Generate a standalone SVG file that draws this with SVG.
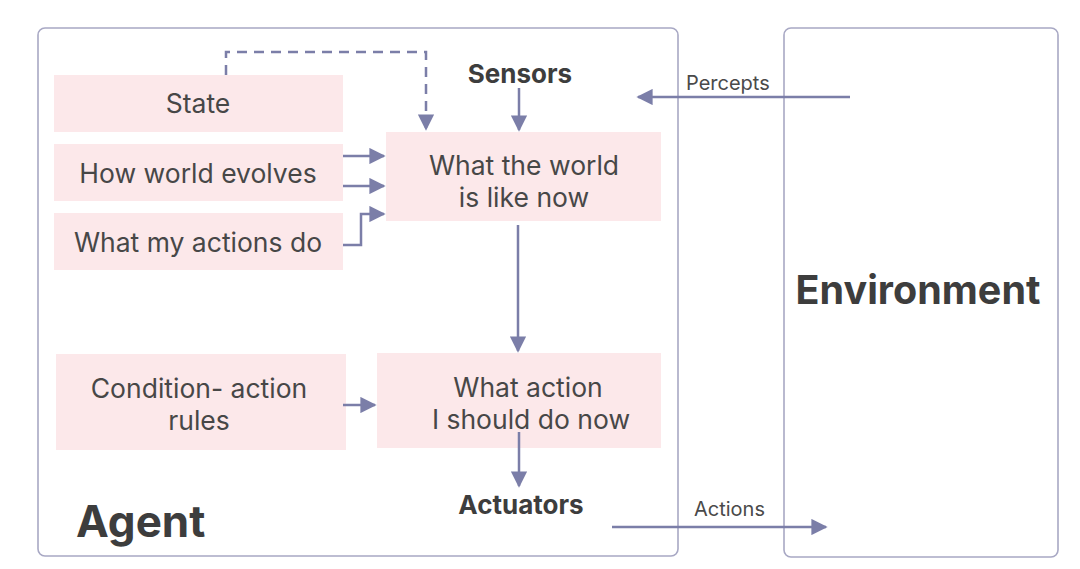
<svg xmlns="http://www.w3.org/2000/svg" width="1080" height="569" viewBox="0 0 1080 569">
<style>
.frame{fill:#fff;stroke:#a8a8c4;stroke-width:1.6}
.box{fill:#fce8ea}
.t{font-family:Inter,"Liberation Sans",sans-serif;font-size:26.5px;fill:#474747;text-anchor:middle}
.b{font-family:Inter,"Liberation Sans",sans-serif;font-weight:700;fill:#3d3d3d}
.lbl{font-family:Inter,"Liberation Sans",sans-serif;font-size:20px;fill:#4a4a4a}
.c{fill:none;stroke:#7b7ea8;stroke-width:2.5}
.d{stroke-dasharray:10 7}
</style>
<defs>
<marker id="ah" viewBox="0 0 10 10" refX="9" refY="5" markerWidth="6.5" markerHeight="6.5" markerUnits="strokeWidth" orient="auto">
<path d="M0,0 L10,5 L0,10 z" fill="#7b7ea8"/>
</marker>
</defs>
<rect width="1080" height="569" fill="#fff"/>
<g id="agent">
<rect class="frame" x="38" y="28" width="640" height="528" rx="7"/>
<text class="b" x="76" y="537" font-size="44">Agent</text>
</g>
<g id="environment">
<rect class="frame" x="784" y="28" width="274" height="529" rx="7"/>
<text class="b" x="918" y="304" font-size="39.5" text-anchor="middle">Environment</text>
</g>
<g id="state">
<rect class="box" x="54" y="75" width="289" height="57"/>
<text class="t" x="198" y="113">State</text>
</g>
<g id="how-world-evolves">
<rect class="box" x="54" y="144" width="289" height="57"/>
<text class="t" x="198" y="183">How world evolves</text>
</g>
<g id="what-my-actions-do">
<rect class="box" x="54" y="213" width="289" height="57"/>
<text class="t" x="198" y="252">What my actions do</text>
</g>
<g id="world-now">
<rect class="box" x="386" y="132" width="275" height="89"/>
<text class="t" x="524" y="175">What the world</text>
<text class="t" x="524" y="207">is like now</text>
</g>
<g id="rules">
<rect class="box" x="56" y="354" width="290" height="96"/>
<text class="t" x="199" y="398">Condition- action</text>
<text class="t" x="199" y="430">rules</text>
</g>
<g id="action-now">
<rect class="box" x="377" y="353" width="284" height="95"/>
<text class="t" x="528" y="397">What action</text>
<text class="t" x="531" y="429">I should do now</text>
</g>
<g id="sensors">
<text class="b" x="520" y="83" font-size="26" text-anchor="middle">Sensors</text>
</g>
<g id="actuators">
<text class="b" x="521" y="514" font-size="26" text-anchor="middle">Actuators</text>
</g>
<g id="connectors">
<path class="c d" d="M226,75 V52 H426 V129" marker-end="url(#ah)"/>
<path class="c" d="M519,88 V130" marker-end="url(#ah)"/>
<path class="c" d="M343,156 H384" marker-end="url(#ah)"/>
<path class="c" d="M343,186 H384" marker-end="url(#ah)"/>
<path class="c" d="M343,245 H361 V214 H384" marker-end="url(#ah)"/>
<path class="c" d="M518,225 V351" marker-end="url(#ah)"/>
<path class="c" d="M343,405 H375" marker-end="url(#ah)"/>
<path class="c" d="M519,432 V486" marker-end="url(#ah)"/>
<path class="c" d="M850,97 H638" marker-end="url(#ah)"/>
<text class="lbl" x="686" y="90">Percepts</text>
<path class="c" d="M612,527 H826" marker-end="url(#ah)"/>
<text class="lbl" x="694" y="516">Actions</text>
</g>
</svg>
